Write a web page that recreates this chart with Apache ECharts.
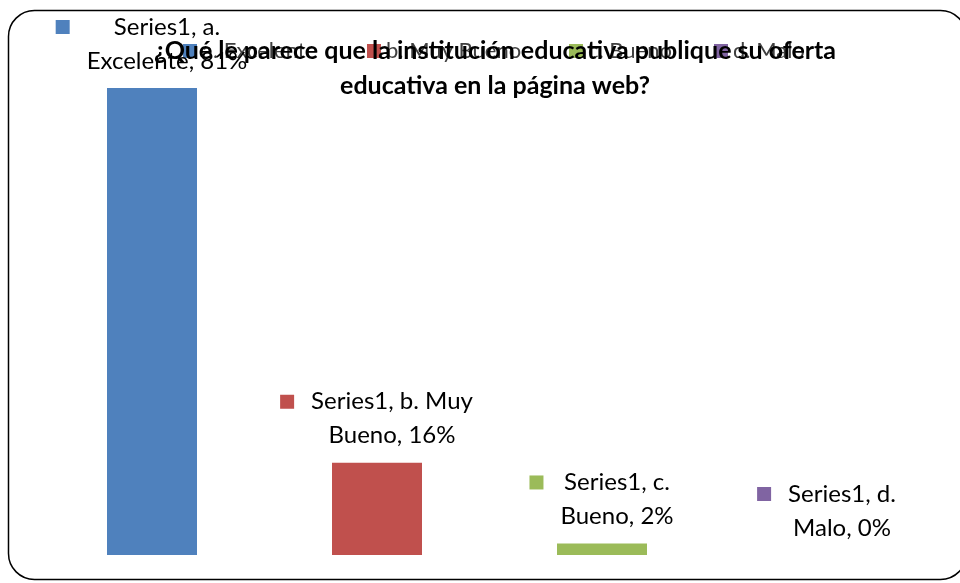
<!DOCTYPE html>
<html>
<head>
<meta charset="utf-8">
<script src="https://cdn.jsdelivr.net/npm/echarts@6/dist/echarts.min.js"></script>
<style>
  html, body { margin: 0; padding: 0; background: #fff; }
  #chart { width: 960px; height: 583px; }
</style>
</head>
<body>
<div id="chart"></div>
<script>
// datos del gráfico
const categories = ['a. Excelente', 'b. Muy Bueno', 'c. Bueno', 'd. Malo'];
const values = [81, 16, 2, 0];
const seriesName = 'Series1';
const colors = ['#4F81BD', '#C0504D', '#9BBB59', '#8064A2'];
const titleText = '¿Qué le parece que la institución educativa publique su oferta\neducativa en la página web?';

const labelFont = '24px Lato';
const legendLeft = [178, 362, 564, 709];

// medir texto para cortar las etiquetas en dos líneas como Excel
const ctx = document.createElement('canvas').getContext('2d');
ctx.font = labelFont;
function wrap(text, maxW) {
  const words = text.split(' ');
  const lines = [];
  let cur = '';
  words.forEach(w => {
    const test = cur ? cur + ' ' + w : w;
    if (cur && ctx.measureText(test).width > maxW) {
      lines.push(cur);
      cur = w;
    } else {
      cur = test;
    }
  });
  lines.push(cur);
  return lines;
}

const barData = values.map((v, i) => {
  const lines = wrap(seriesName + ', ' + categories[i] + ', ' + v + '%', 166);
  const w = Math.max(...lines.map(l => ctx.measureText(l).width)) + 2;
  return {
    value: v,
    name: categories[i],
    itemStyle: { color: colors[i] },
    label: {
      formatter: lines.map((l, k) => (k === 0 ? '{sq|}' : '{e|}') + '{g|}{t|' + l + '}').join('\n'),
      rich: {
        sq: { width: 14, height: 14, backgroundColor: colors[i] },
        t: { width: w }
      }
    }
  };
});

// series vacías solo para la leyenda
const legendSeries = categories.map((c, i) => ({
  name: c,
  type: 'line',
  data: [],
  itemStyle: { color: colors[i] }
}));

// una leyenda por elemento para fijar la posición de cada uno
const legends = categories.map((c, i) => ({
  data: [c],
  left: legendLeft[i],
  top: 35,
  itemWidth: 14,
  itemHeight: 14,
  itemGap: 0,
  icon: 'rect',
  textStyle: { fontFamily: 'Lato', fontSize: 22, color: '#404040' },
  z: 1
}));

const chart = echarts.init(document.getElementById('chart'));
chart.setOption({
  animation: false,
  graphic: [{
    type: 'rect',
    shape: { x: 8.5, y: 10.5, width: 958, height: 569, r: 26 },
    style: { fill: 'none', stroke: '#000', lineWidth: 1.5 },
    z: -10
  }],
  title: {
    text: titleText,
    left: 490,
    top: 28,
    textAlign: 'center',
    textStyle: {
      fontFamily: 'Lato',
      fontSize: 25,
      fontWeight: 'bold',
      color: '#000',
      lineHeight: 35
    },
    z: 10
  },
  legend: legends,
  grid: { left: 39.5, right: 20.5, top: 88, bottom: 28 },
  xAxis: {
    type: 'category',
    data: categories,
    show: false
  },
  yAxis: {
    type: 'value',
    min: 0,
    max: 81,
    show: false
  },
  series: [{
    name: seriesName,
    type: 'bar',
    barWidth: '40%',
    data: barData,
    label: {
      show: true,
      position: 'top',
      distance: 10,
      align: 'center',
      color: '#000',
      fontFamily: 'Lato',
      fontSize: 24,
      lineHeight: 34,
      rich: {
        e: { width: 14, height: 14 },
        g: { width: 16 },
        t: { fontFamily: 'Lato', fontSize: 24, lineHeight: 34, color: '#000', align: 'center' }
      }
    }
  }].concat(legendSeries)
});
</script>
</body>
</html>
